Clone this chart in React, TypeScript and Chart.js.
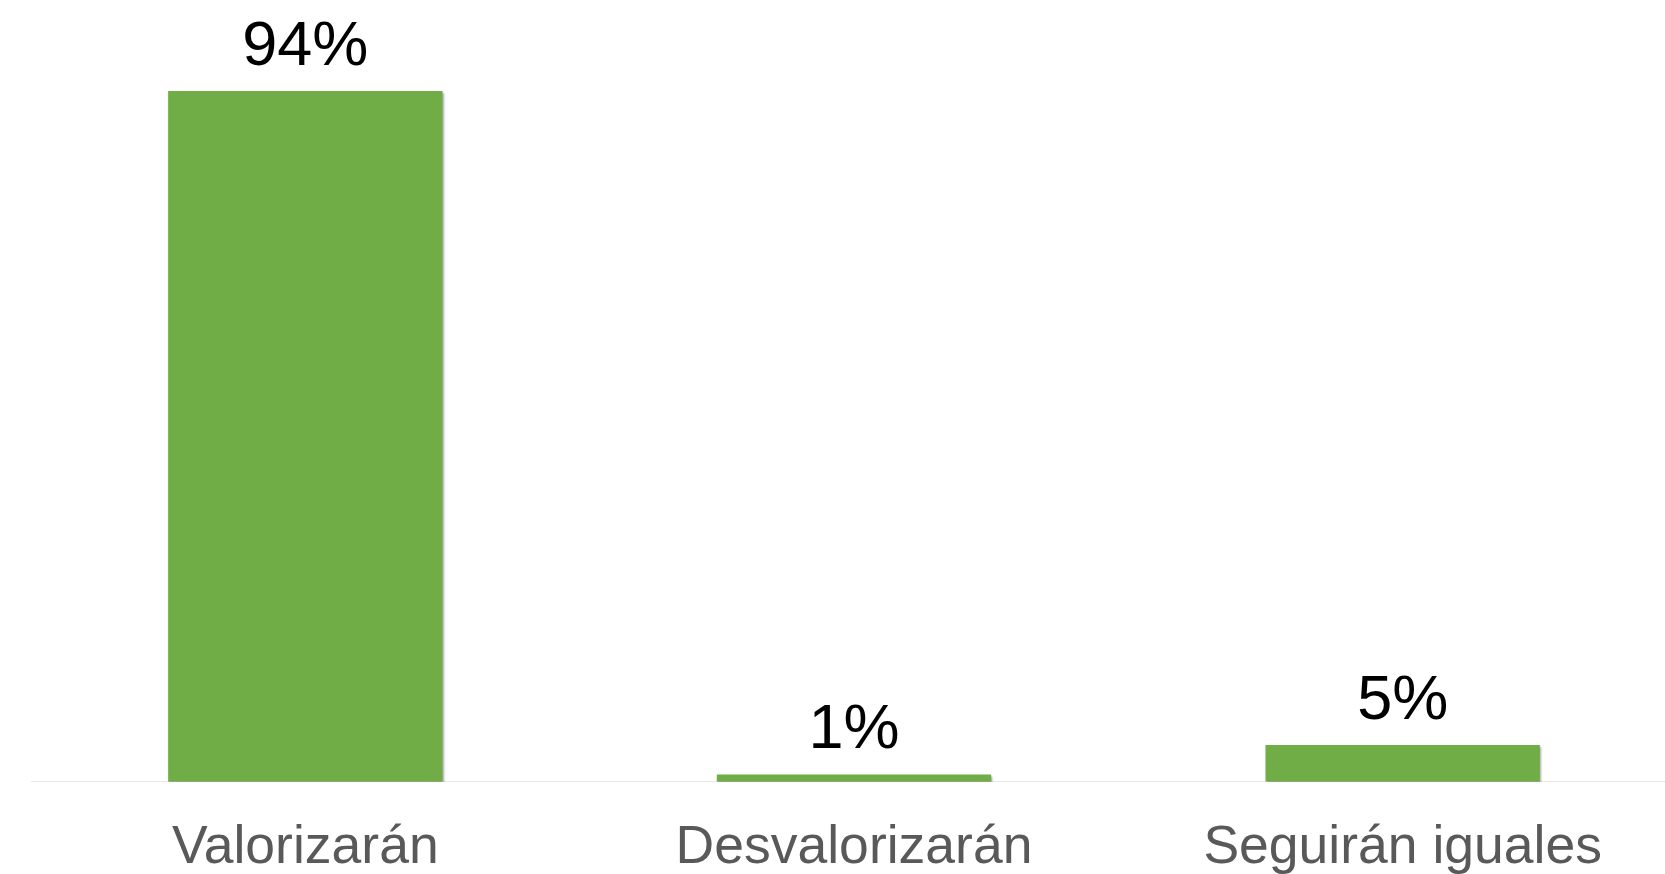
import React, { useEffect, useRef } from "react";
import { Chart, registerables } from "chart.js";

Chart.register(...registerables);

const categories = ["Valorizarán", "Desvalorizarán", "Seguirán iguales"];
const values = [94, 1, 5];
const valueLabels = ["94%", "1%", "5%"];

const barColor = "#70AD47";

const labelPlugin = {
  id: "valueLabels",
  beforeDatasetsDraw(chart: any) {
    const ctx = chart.ctx;
    ctx.save();
    ctx.shadowColor = "rgba(0,0,0,0.35)";
    ctx.shadowOffsetY = 2;
    ctx.shadowOffsetX = 1;
    ctx.shadowBlur = 2;
  },
  afterDatasetsDraw(chart: any) {
    const ctx = chart.ctx;
    ctx.restore();
    const meta = chart.getDatasetMeta(0);
    ctx.save();
    ctx.fillStyle = "#000000";
    ctx.font = '63px "Liberation Sans", Arial, sans-serif';
    ctx.textAlign = "center";
    ctx.textBaseline = "alphabetic";
    meta.data.forEach((bar: any, i: number) => {
      ctx.fillText(valueLabels[i], bar.x, bar.y - 26);
    });
    ctx.restore();
  },
};

export default function App() {
  const ref = useRef<HTMLCanvasElement | null>(null);
  useEffect(() => {
    document.body.style.margin = "0";
    document.body.style.overflow = "hidden";
    if (!ref.current) return;
    const chart = new Chart(ref.current, {
      type: "bar",
      data: {
        labels: categories,
        datasets: [
          {
            data: values,
            backgroundColor: barColor,
            borderWidth: 0,
            categoryPercentage: 1,
            barPercentage: 0.5,
          },
        ],
      },
      options: {
        animation: false,
        responsive: false,
        maintainAspectRatio: false,
        layout: { padding: { left: 31, right: 3, top: 47, bottom: 0 } },
        plugins: {
          legend: { display: false },
          tooltip: { enabled: false },
        },
        scales: {
          x: {
            grid: { display: false, drawTicks: false },
            border: { display: true, color: "#e8e8e8", width: 1 },
            ticks: {
              color: "#595959",
              padding: 34,
              font: { family: '"Liberation Sans", Arial, sans-serif', size: 53.5 },
              maxRotation: 0,
            },
          },
          y: {
            display: false,
            min: 0,
            max: 100,
          },
        },
      },
      plugins: [labelPlugin],
    });
    return () => chart.destroy();
  }, []);
  return (
    <div style={{ position: "fixed", left: 0, top: 0, width: 1665, height: 874, overflow: "hidden", background: "#fff" }}>
      <canvas ref={ref} width={1680} height={914} style={{ width: 1680, height: 914, display: "block" }} />
    </div>
  );
}
